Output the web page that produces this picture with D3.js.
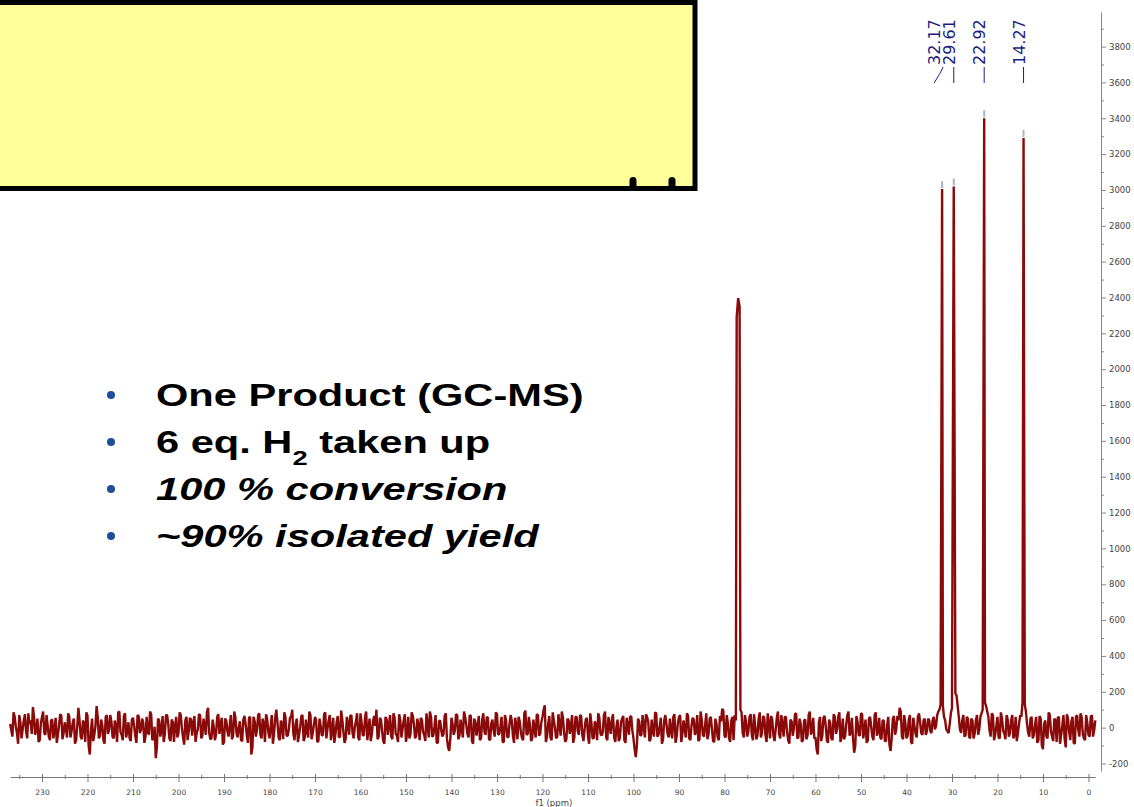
<!DOCTYPE html>
<html>
<head>
<meta charset="utf-8">
<script src="https://cdn.jsdelivr.net/npm/d3@7"></script>
<style>
  html, body { margin: 0; padding: 0; background: #fff; overflow: hidden; }
  svg { display: block; }
</style>
</head>
<body>
<svg id="chart" width="1134" height="807"></svg>
<script>
// ---- 13C spectrum data (intensity in arbitrary units, shift in ppm) ----

// Baseline samples every 0.5 ppm from 237.0 ppm upfield
const noiseStart = 237.0;
const noiseStep = 0.5;
const noise = [
  20,-50,60,-30,70,-60,40,-20,80,40,
  115,-40,50,-70,60,-30,70,-50,40,-60,
  55,-40,75,-65,30,-55,60,-20,50,-70,
  110,-50,40,-80,65,-150,50,-40,120,-60,
  45,-70,60,-35,70,-50,40,-80,90,-40,
  65,-55,30,-75,55,-45,70,-30,50,-85,
  60,-40,75,-60,-170,50,-50,65,-35,70,
  -60,45,-80,60,-30,70,-55,40,-70,55,
  -45,65,-30,75,-60,50,-40,110,-65,45,
  -70,60,-35,55,-80,40,-50,70,-45,60,
  -55,35,-75,65,-40,55,-150,60,-50,70,
  -40,50,-80,45,-60,70,-35,100,-55,40,
  -65,60,-45,55,100,-70,50,-40,65,-75,
  45,-55,70,-30,60,-80,50,-45,75,-60,
  40,-70,55,-35,65,-50,45,-85,60,-40,
  70,-60,35,-55,80,-45,60,-70,50,-35,
  65,100,-50,45,-75,60,-40,70,-65,55,
  -45,75,-55,40,-80,60,-35,65,-60,50,
  -70,45,-40,80,-55,60,-45,70,-85,40,
  -50,65,-60,-130,55,-40,75,-65,45,-55,
  60,-35,70,-75,50,-45,65,-60,80,-40,
  55,-70,45,-50,75,-35,60,-80,40,-55,
  70,-45,55,-65,35,-60,80,-40,60,-75,
  45,-55,70,-35,60,125,-50,65,-70,40,
  -60,75,-45,55,-80,50,-35,70,-55,60,
  -40,65,-75,45,-50,80,-60,35,-70,55,
  -45,70,-55,60,-35,75,-80,45,-60,50,
  -70,55,-40,65,-60,-165,50,-45,70,-55,
  60,-75,45,-50,80,-40,55,-65,70,-35,
  50,-60,75,-45,60,-80,40,-55,65,-70,
  55,-40,70,-65,45,-50,80,-35,60,-75,
  50,-55,65,105,-45,70,-60,40,-70,40,
  0,100,-30,70,-50,60,-40,75,-65,50,
  -55,65,-40,80,-60,45,-75,55,-35,70,
  -50,60,-70,45,-45,75,-60,50,-80,40,
  -65,70,-40,55,-55,-150,60,-45,65,-70,
  45,-60,75,-35,60,-80,50,-50,70,-45,
  55,-140,65,-40,80,-60,45,-70,60,-50,
  70,-45,55,-65,40,-75,60,-130,50,-40,
  65,110,-50,70,-60,45,-80,55,-35,60,
  30,-40,50,-20,40,-30,60,10,90,130,
  120,40,-20,20,110,200,180,60,-30,70,
  -40,50,-60,40,-30,70,-10,80,130,120,
  60,-50,70,-40,60,-60,50,-30,70,-50,
  40,-60,60,-30,70,140,130,20,-50,60,
  -40,60,-70,50,-120,40,-60,70,-50,50,
  -80,60,-40,70,-110,50,-70,60,-90,70,
  -50,60,-60,70,-40,60,-50,40
];

// Baseline samples in between, every 0.5 ppm from 236.75 ppm upfield
const noiseMidStart = 236.75;
const noiseMid = [
  -15,85,5,-90,30,-10,75,-60,20,-35,
  60,-5,-80,25,90,-40,10,-70,45,-20,
  -85,15,65,-30,-5,80,-55,25,-90,10,
  40,-65,20,85,-100,-20,-75,10,60,-45,
  15,-90,70,-10,35,-60,5,85,-25,-70,
  80,-20,-60,45,10,-85,65,-15,30,-50,
  -25,90,-70,5,-110,40,-15,-80,70,20,
  -75,30,10,-55,85,-5,-95,60,-20,45,
  25,-80,-10,70,-45,15,85,-30,-60,5,
  -40,75,15,-95,50,-20,10,-65,90,-30,
  5,-70,45,20,-85,60,-110,35,-15,80,
  -60,20,75,-25,5,-90,55,30,-70,15,
  85,-45,-10,60,-35,20,-80,5,70,-55,
  -20,90,-65,15,40,-75,10,-40,85,-5,
  70,-15,-85,30,-55,95,-25,-60,20,65,
  -30,5,80,-70,25,-40,90,-10,-75,35,
  10,-65,55,-20,-90,45,15,-50,80,-35,
  -80,40,-5,75,-30,-60,85,20,-45,10,
  55,-25,-75,15,90,-50,5,-85,35,-15,
  -35,80,-110,-60,20,-15,70,-45,-5,90,
  15,-55,65,-90,30,10,-70,45,-25,60,
  -65,25,-15,85,-40,5,-80,70,-50,20,
  40,-85,10,60,-25,-70,95,-35,15,-60,
  -10,75,-45,30,100,-80,20,-55,85,-5,
  -50,15,90,-30,-65,40,5,-85,60,-20,
  70,-40,-10,55,-90,25,-60,10,80,-35,
  -25,90,-70,15,45,-55,5,-75,30,65,
  -85,20,60,-15,-120,-100,35,-40,10,75,
  30,-65,-20,85,-50,5,-90,40,20,-55,
  -15,60,-85,25,70,-35,-5,80,-60,10,
  45,-20,-75,90,-40,15,-65,50,-10,-80,
  20,-70,35,95,-55,25,-80,60,70,0,
  0,85,-55,30,-20,75,-70,10,-45,85,
  -30,55,-80,20,65,-45,-10,90,-60,15,
  60,-25,-90,35,-5,80,-55,20,-70,45,
  -45,90,-15,-60,-120,30,-75,55,10,-85,
  25,-70,60,-10,85,-40,-65,15,90,-25,
  -60,-100,30,-45,75,-15,-85,50,5,-70,
  85,-20,-55,40,-75,15,-95,-60,65,-10,
  40,90,-65,25,-45,70,-90,10,-55,80,
  -30,40,-40,50,-20,40,-10,70,100,0,
  60,-10,-30,80,0,190,120,-10,40,-50,
  60,-50,50,-60,40,-40,60,100,140,90,
  -15,80,-70,10,-55,85,-20,-65,45,-30,
  70,-40,-75,25,60,0,90,-30,50,-60,
  15,-85,65,-100,20,-50,85,-20,-75,40,
  55,-90,10,-60,75,-25,35,-85,60,-10,
  80,-35,-70,25,-50,70,-15
];

// Resonances: CDCl3 triplet near 77 ppm and the product signals
const peakPpm    = [77.32, 77.00, 76.68, 32.17, 29.61, 29.45, 22.92, 14.27];
const peakHeight = [2290,  2397,  2350,  3005,  3020,  1760,  3400,  3290];

// Picked peaks that carry a shift label
const labelPpm = [32.17, 29.61, 22.92, 14.27];

// Axis tick labels
const xTickLabels = [230, 220, 210, 200, 190, 180, 170, 160, 150, 140, 130, 120,
                     110, 100, 90, 80, 70, 60, 50, 40, 30, 20, 10, 0];
const yTickLabels = [-200, 0, 200, 400, 600, 800, 1000, 1200, 1400, 1600, 1800,
                     2000, 2200, 2400, 2600, 2800, 3000, 3200, 3400, 3600, 3800];
const xAxisTitle = "f1 (ppm)";

// Annotation bullets: [text, subscript?] segments per line
const bulletSegments = [
  [["One Product (GC-MS)", false]],
  [["6 eq. H", false], ["2", true], [" taken up", false]],
  [["100 % conversion", false]],
  [["~90% isolated yield", false]]
];
const bulletItalic = [false, false, true, true];

// ---- drawing ----
const svg = d3.select("#chart");

const x = d3.scaleLinear().domain([237, -1.5]).range([10.15, 1095.3]);
const y = d3.scaleLinear().domain([-242, 3993]).range([771, 12]);

// merge both baseline sample sets with the resonance lines, ordered by shift
const nearPeak = p => peakPpm.some(q => Math.abs(q - p.ppm) < 0.15);
const base = noise.map((v, i) => ({ ppm: noiseStart - i * noiseStep, v }))
  .concat(noiseMid.map((v, i) => ({ ppm: noiseMidStart - i * noiseStep, v })))
  .filter(p => !nearPeak(p));
const points = base
  .concat(peakPpm.map((p, i) => ({ ppm: p, v: peakHeight[i] })))
  .sort((a, b) => b.ppm - a.ppm);

const line = d3.line().x(d => x(d.ppm)).y(d => y(d.v));

svg.append("path")
  .datum(points)
  .attr("d", line)
  .attr("fill", "none")
  .attr("stroke", "#8a0909")
  .attr("stroke-width", 2.4)
  .attr("stroke-linejoin", "bevel");

// peak-pick markers on the labelled peaks
svg.append("g").selectAll("line")
  .data(labelPpm)
  .join("line")
  .attr("x1", d => x(d))
  .attr("x2", d => x(d))
  .attr("y1", d => y(peakHeight[peakPpm.indexOf(d)]) - 1)
  .attr("y2", d => y(peakHeight[peakPpm.indexOf(d)]) - 8)
  .attr("stroke", "#a9b2d6")
  .attr("stroke-width", 2);

// x axis (ppm, reversed)
const minorX = xTickLabels.map(v => v + 5).filter(v => v < 237);
const gxMinor = svg.append("g")
  .attr("transform", "translate(0,777)")
  .call(d3.axisBottom(x).tickValues(minorX).tickSize(2).tickFormat(""));
gxMinor.select(".domain").remove();
gxMinor.selectAll(".tick line").attr("y1", -2).attr("stroke", "#777");

const gx = svg.append("g")
  .attr("transform", "translate(0,777)")
  .call(d3.axisBottom(x).tickValues(xTickLabels).tickSize(5).tickPadding(8)
        .tickSizeOuter(0).tickFormat(d => String(d)));
gx.attr("font-family", "DejaVu Sans, sans-serif").attr("font-size", 7.5);
gx.select(".domain").attr("stroke", "#777");
gx.selectAll(".tick line").attr("y1", -3).attr("stroke", "#777");
gx.selectAll(".tick text").attr("fill", "#444");

svg.append("text")
  .attr("x", x(117.5))
  .attr("y", 806)
  .attr("text-anchor", "middle")
  .attr("font-family", "DejaVu Sans, sans-serif")
  .attr("font-size", 8.5)
  .attr("fill", "#444")
  .text(xAxisTitle);

// y axis (intensity) on the right
const minorY = yTickLabels.map(v => v + 100);
const gyMinor = svg.append("g")
  .attr("transform", "translate(1101,0)")
  .call(d3.axisRight(y).tickValues(minorY).tickSize(3).tickFormat(""));
gyMinor.select(".domain").remove();
gyMinor.selectAll(".tick line").attr("stroke", "#888");

const gy = svg.append("g")
  .attr("transform", "translate(1101,0)")
  .call(d3.axisRight(y).tickValues(yTickLabels).tickSize(5).tickPadding(3)
        .tickSizeOuter(0).tickFormat(d => String(d)));
gy.attr("font-family", "DejaVu Sans, sans-serif").attr("font-size", 8.5);
gy.select(".domain").attr("stroke", "#888");
gy.selectAll(".tick line").attr("stroke", "#888");
gy.selectAll(".tick text").attr("fill", "#444");

// peak labels: vertical text with leader lines, pushed left when crowded
const labelG = svg.append("g");
const sortedLabels = labelPpm.slice().sort((a, b) => a - b);
let prevX = Infinity;
const placed = sortedLabels.map(p => {
  const px = x(p);
  const lx = Math.min(px, prevX - 15);
  prevX = lx;
  return { ppm: p, px, lx };
});
placed.forEach(d => {
  if (Math.abs(d.lx - d.px) < 0.5) {
    labelG.append("line")
      .attr("x1", d.px).attr("x2", d.px)
      .attr("y1", 67).attr("y2", 83)
      .attr("stroke", "#1d1d80").attr("stroke-width", 1);
  } else {
    labelG.append("path")
      .attr("d", `M${d.lx - 4.5},83 C${d.lx - 3},80 ${d.px - 1},72 ${d.px + 1},67`)
      .attr("fill", "none")
      .attr("stroke", "#1d1d80").attr("stroke-width", 1);
  }
  labelG.append("text")
    .attr("transform", `translate(${d.lx + 1},65) rotate(-90)`)
    .attr("font-family", "DejaVu Sans, sans-serif")
    .attr("font-size", 16)
    .attr("fill", "#1d1d80")
    .text(d.ppm.toFixed(2));
});

// yellow note box at the top left
svg.append("rect")
  .attr("x", -10).attr("y", 2.5)
  .attr("width", 705).attr("height", 186)
  .attr("fill", "#ffff99")
  .attr("stroke", "#000")
  .attr("stroke-width", 5);
[633, 672].forEach(cx => {
  svg.append("rect")
    .attr("x", cx - 3.5).attr("y", 177)
    .attr("width", 7).attr("height", 12)
    .attr("rx", 3.5)
    .attr("fill", "#000");
});

// bullet list
const bulletG = svg.append("g");
bulletSegments.forEach((segs, i) => {
  const by = 406 + i * 47;
  bulletG.append("circle")
    .attr("cx", 111).attr("cy", by - 11).attr("r", 4)
    .attr("fill", "#1f4e9a");
  const t = bulletG.append("text")
    .attr("transform", `translate(156,${by}) scale(1.3,1)`)
    .attr("font-family", "Liberation Sans, Arial, sans-serif")
    .attr("font-weight", "bold")
    .attr("font-style", bulletItalic[i] ? "italic" : "normal")
    .attr("font-size", 32)
    .attr("fill", "#000");
  let shifted = false;
  segs.forEach(([txt, sub]) => {
    const ts = t.append("tspan").text(txt);
    if (sub) { ts.attr("font-size", 21).attr("dy", 12); shifted = true; }
    else if (shifted) { ts.attr("dy", -12); shifted = false; }
  });
});
</script>
</body>
</html>
